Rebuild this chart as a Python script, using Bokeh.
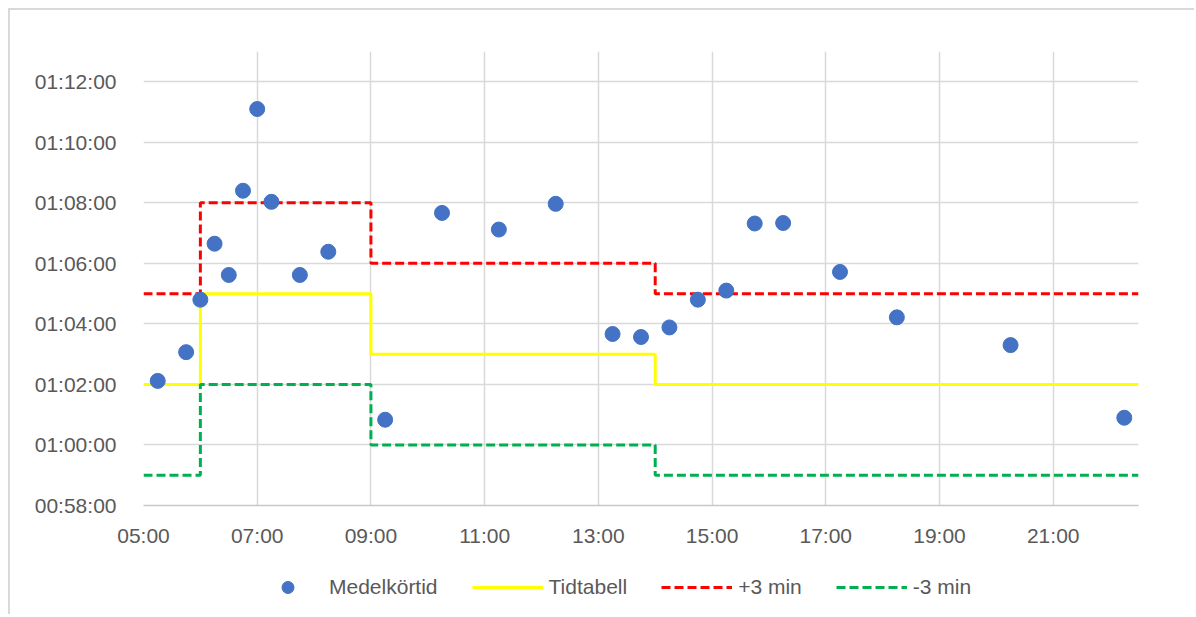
from bokeh.plotting import figure
from bokeh.models import FixedTicker, Legend, LegendItem, Range1d
from bokeh.layouts import column
from bokeh.embed import file_html
from bokeh.resources import INLINE

# ---- data ----
times = ["05:15", "05:45", "06:00", "06:15", "06:30", "06:45", "07:00", "07:15",
         "07:45", "08:15", "09:15", "10:15", "11:15", "12:15", "13:15", "13:45",
         "14:15", "14:45", "15:15", "15:45", "16:15", "17:15", "18:15", "20:15", "22:15"]
medelkortid = ["01:02:07", "01:03:04", "01:04:48", "01:06:39", "01:05:37", "01:08:24",
               "01:11:06", "01:08:02", "01:05:37", "01:06:23", "01:00:50", "01:07:40",
               "01:07:07", "01:07:58", "01:03:40", "01:03:34", "01:03:53", "01:04:48",
               "01:05:06", "01:07:19", "01:07:20", "01:05:43", "01:04:13", "01:03:18",
               "01:00:54"]
step_starts = ["05:00", "06:00", "09:00", "14:00"]
step_end = "22:30"
tidtabell = ["01:02:00", "01:05:00", "01:03:00", "01:02:00"]
plus3 = ["01:05:00", "01:08:00", "01:06:00", "01:05:00"]
minus3 = ["00:59:00", "01:02:00", "01:00:00", "00:59:00"]
x_ticks = ["05:00", "07:00", "09:00", "11:00", "13:00", "15:00", "17:00", "19:00", "21:00"]
y_ticks = ["00:58:00", "01:00:00", "01:02:00", "01:04:00", "01:06:00", "01:08:00",
           "01:10:00", "01:12:00"]
y_top = "01:13:00"


def hours(s):
    h, m = s.split(":")
    return int(h) + int(m) / 60.0


def minutes(s):
    h, m, sec = s.split(":")
    return int(h) * 60 + int(m) + int(sec) / 60.0


def step_xy(vals):
    xs, ys = [], []
    starts = [hours(s) for s in step_starts] + [hours(step_end)]
    for i, v in enumerate(vals):
        xs += [starts[i], starts[i + 1]]
        ys += [minutes(v), minutes(v)]
    return xs, ys


FONT = "Liberation Sans"
TXT = "#595959"
C_PTS, C_TID, C_PLUS, C_MINUS = "#4472C4", "#FFFF00", "#FF0000", "#00B050"

x_range = Range1d(hours(step_starts[0]), hours(step_end))
p = figure(width=1184, height=545, output_backend="svg", toolbar_location=None,
           x_range=x_range,
           y_range=Range1d(minutes(y_ticks[0]), minutes(y_top)),
           min_border_left=133, min_border_right=56, min_border_top=41,
           min_border_bottom=50)
p.outline_line_color = None
p.background_fill_color = "white"
p.border_fill_color = "white"

xt = [hours(t) for t in x_ticks]
yt = [minutes(t) for t in y_ticks]
p.xaxis.ticker = FixedTicker(ticks=xt)
p.yaxis.ticker = FixedTicker(ticks=yt)
p.xaxis.major_label_overrides = {v: t for v, t in zip(xt, x_ticks)}
p.yaxis.major_label_overrides = {v: t for v, t in zip(yt, y_ticks)}

for ax in (p.xaxis[0], p.yaxis[0]):
    ax.major_tick_line_color = None
    ax.minor_tick_line_color = None
    ax.major_label_text_font = FONT
    ax.major_label_text_font_size = "21px"
    ax.major_label_text_color = TXT
p.xaxis.axis_line_color = "#c8c8c8"
p.xaxis.axis_line_width = 1.5
p.yaxis.axis_line_color = None
p.xaxis.major_label_standoff = 12
p.yaxis.major_label_standoff = 21

p.grid.grid_line_color = "#d9d9d9"
p.grid.grid_line_width = 1.5

tid_x, tid_y = step_xy(tidtabell)
plus_x, plus_y = step_xy(plus3)
minus_x, minus_y = step_xy(minus3)
pts_x = [hours(t) for t in times]
pts_y = [minutes(v) for v in medelkortid]


def draw(fig):
    a = fig.line(tid_x, tid_y, line_color=C_TID, line_width=3)
    b = fig.line(plus_x, plus_y, line_color=C_PLUS, line_width=3, line_dash="9 4")
    c = fig.line(minus_x, minus_y, line_color=C_MINUS, line_width=3, line_dash="9 4")
    d = fig.scatter(pts_x, pts_y, size=15, fill_color=C_PTS, line_color=C_PTS)
    return d, a, b, c


draw(p)

# ---- legend strip: a separate axis-less figure below the chart; its view
# window holds none of the data, so only the legend shows ----
leg = figure(width=1184, height=59, output_backend="svg", toolbar_location=None,
             x_range=x_range, y_range=Range1d(0, 1),
             min_border=0, outline_line_color=None)
leg.axis.visible = False
leg.grid.visible = False
l_pts, l_tid, l_plus, l_minus = draw(leg)

legend = Legend(items=[
    LegendItem(label="Medelkörtid", renderers=[l_pts]),
    LegendItem(label="Tidtabell", renderers=[l_tid]),
    LegendItem(label="+3 min", renderers=[l_plus]),
    LegendItem(label="-3 min", renderers=[l_minus]),
], orientation="horizontal", location=(109, 12))
legend.label_text_font = FONT
legend.label_text_font_size = "21px"
legend.label_text_color = TXT
legend.glyph_width = 71
legend.glyph_height = 30
legend.label_standoff = 6
legend.spacing = 34
legend.padding = 0
legend.margin = 0
legend.border_line_color = None
legend.background_fill_alpha = 0
leg.add_layout(legend, "center")

layout = column(p, leg, spacing=0)
layout.styles = {"margin-left": "8px", "margin-top": "8px",
                 "border-top": "2px solid #d9d9d9", "border-left": "2px solid #d9d9d9"}

open("out.html", "w").write(file_html(layout, INLINE))
